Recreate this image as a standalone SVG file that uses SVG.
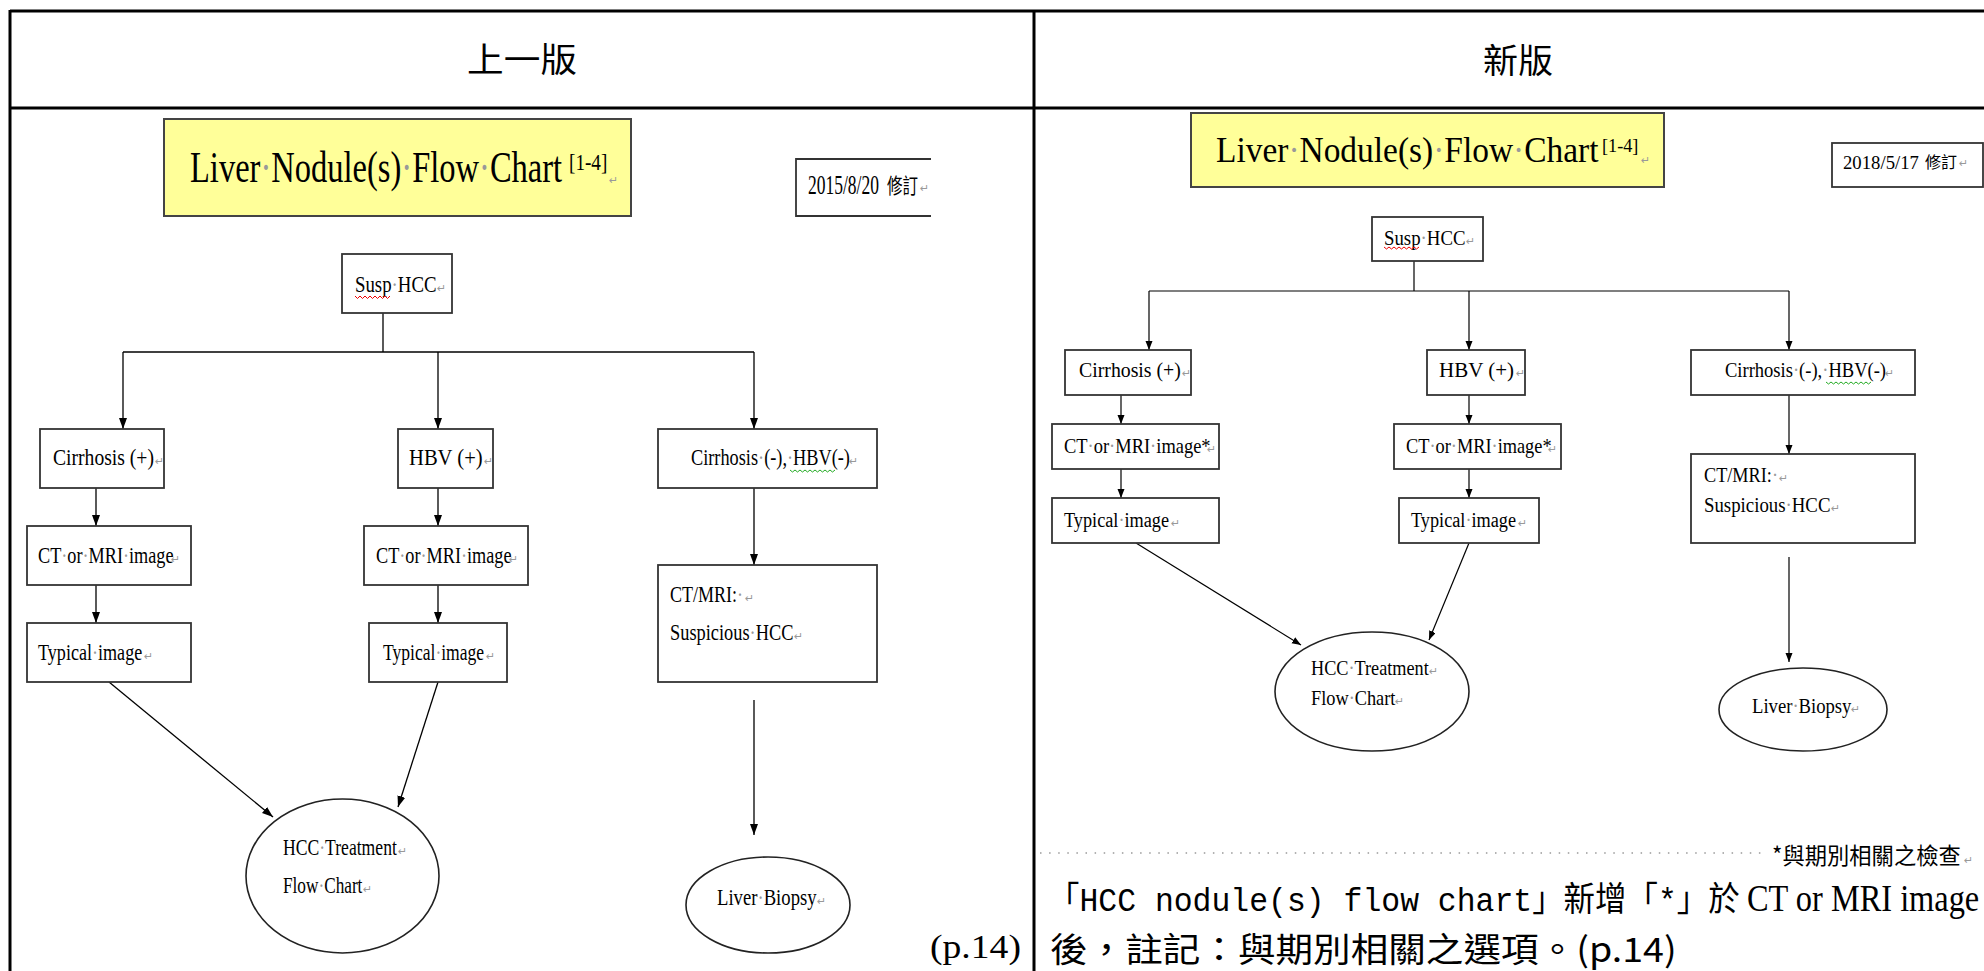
<svg xmlns="http://www.w3.org/2000/svg" width="1984" height="971" viewBox="0 0 1984 971">
<style>
.bg{fill:#fff}
.tb{stroke:#000;stroke-width:3;fill:none}
.bx{fill:#fff;stroke:#333;stroke-width:1.8}
.yb{fill:#ffff99;stroke:#444;stroke-width:2}
.el{fill:#fff;stroke:#222;stroke-width:1.6}
.cn{stroke:#000;stroke-width:1.3;fill:none}
.cnr{stroke:#000;stroke-width:1.2;fill:none}
.sr{font-family:"Liberation Serif","Times New Roman",serif;fill:#000}
.cjk{font-family:"Noto Sans CJK TC","Noto Sans CJK SC",sans-serif;fill:#000}
.mono{font-family:"Liberation Mono","Noto Sans CJK TC",monospace;fill:#000}
.lb{font-size:24px}
.rb{font-size:20px}
.d{fill:#999}
.pm{font-family:"DejaVu Sans",sans-serif;fill:#999;font-size:11px}
.sq{fill:none;stroke-width:1}
</style>
<defs>
<marker id="ah" markerUnits="userSpaceOnUse" markerWidth="12" markerHeight="9" refX="11" refY="4" orient="auto">
<path d="M0,0 L11,4 L0,8 z" fill="#000"/>
</marker>
<marker id="ahs" markerUnits="userSpaceOnUse" markerWidth="10" markerHeight="8" refX="9" refY="3.5" orient="auto">
<path d="M0,0 L9,3.5 L0,7 z" fill="#000"/>
</marker>
</defs>
<rect class="bg" x="0" y="0" width="1984" height="971"/>

<g id="table">
<line class="tb" x1="10" y1="11" x2="1984" y2="11"/>
<line class="tb" x1="10" y1="108" x2="1984" y2="108"/>
<line class="tb" x1="10" y1="10" x2="10" y2="971"/>
<line class="tb" x1="1034" y1="10" x2="1034" y2="971"/>
<text class="cjk" x="467" y="72" font-size="34" textLength="110" lengthAdjust="spacingAndGlyphs">上一版</text>
<text class="cjk" x="1483" y="73" font-size="34" textLength="70" lengthAdjust="spacingAndGlyphs">新版</text>
</g>

<!-- ============ LEFT (old) ============ -->
<g id="old-title">
<rect class="yb" x="164" y="119" width="467" height="97"/>
<text class="sr" font-size="45" transform="translate(190,182) scale(0.723,1)">Liver<tspan class="d">·</tspan>Nodule(s)<tspan class="d">·</tspan>Flow<tspan class="d">·</tspan>Chart</text>
<text class="sr" font-size="24" transform="translate(569,170) scale(0.8,1)">[1-4]</text>
<text class="pm" x="609" y="184">↵</text>
</g>

<g id="old-date">
<path class="bx" d="M931,159 H796 V216 H931" fill="none"/>
<text class="sr" font-size="28" transform="translate(808,194) scale(0.625,1)">2015/8/20</text>
<text class="cjk" font-size="21" transform="translate(887,193) scale(0.74,1)">修訂</text>
<text class="pm" x="920" y="192">↵</text>
</g>

<g id="old-connectors">
<line class="cn" x1="383" y1="313" x2="383" y2="352"/>
<line class="cn" x1="123" y1="352" x2="754" y2="352"/>
<line class="cn" x1="123" y1="352" x2="123" y2="429" marker-end="url(#ah)"/>
<line class="cn" x1="438" y1="352" x2="438" y2="429" marker-end="url(#ah)"/>
<line class="cn" x1="754" y1="352" x2="754" y2="429" marker-end="url(#ah)"/>
<line class="cn" x1="96" y1="488" x2="96" y2="526" marker-end="url(#ah)"/>
<line class="cn" x1="438" y1="488" x2="438" y2="526" marker-end="url(#ah)"/>
<line class="cn" x1="754" y1="488" x2="754" y2="565" marker-end="url(#ah)"/>
<line class="cn" x1="96" y1="585" x2="96" y2="623" marker-end="url(#ah)"/>
<line class="cn" x1="438" y1="585" x2="438" y2="623" marker-end="url(#ah)"/>
<line class="cn" x1="109" y1="682" x2="273" y2="817" marker-end="url(#ah)"/>
<line class="cn" x1="438" y1="682" x2="398" y2="807" marker-end="url(#ah)"/>
<line class="cn" x1="754" y1="700" x2="754" y2="835" marker-end="url(#ah)"/>
</g>

<g id="old-susp">
<rect class="bx" x="342" y="254" width="110" height="59"/>
<text class="sr lb" transform="translate(355,292) scale(0.784,1)">Susp<tspan class="d">·</tspan>HCC</text>
<path class="sq" stroke="#e00" d="M355,296 l2.5,2.5 l2.5,-2.5 l2.5,2.5 l2.5,-2.5 l2.5,2.5 l2.5,-2.5 l2.5,2.5 l2.5,-2.5 l2.5,2.5 l2.5,-2.5 l2.5,2.5 l2.5,-2.5 l2.5,2.5 l2.5,-2.5"/>
<text class="pm" x="437" y="292">↵</text>
</g>

<g id="old-cirrhosis-pos">
<rect class="bx" x="40" y="429" width="124" height="59"/>
<text class="sr lb" transform="translate(53,465) scale(0.818,1)">Cirrhosis (+)</text>
<text class="pm" x="155" y="465">↵</text>
</g>
<g id="old-hbv-pos">
<rect class="bx" x="398" y="429" width="95" height="59"/>
<text class="sr lb" transform="translate(409,465) scale(0.859,1)">HBV (+)</text>
<text class="pm" x="484" y="465">↵</text>
</g>
<g id="old-neg">
<rect class="bx" x="658" y="429" width="219" height="59"/>
<text class="sr lb" transform="translate(691,465) scale(0.762,1)">Cirrhosis<tspan class="d">·</tspan>(-),<tspan class="d">·</tspan>HBV(-)</text>
<path class="sq" stroke="#2a2" d="M790,470 l2.5,2 l2.5,-2 l2.5,2 l2.5,-2 l2.5,2 l2.5,-2 l2.5,2 l2.5,-2 l2.5,2 l2.5,-2 l2.5,2 l2.5,-2 l2.5,2 l2.5,-2 l2.5,2 l2.5,-2 l2.5,2 l2.5,-2"/>
<text class="pm" x="849" y="465">↵</text>
</g>
<g id="old-ct-left">
<rect class="bx" x="27" y="526" width="164" height="59"/>
<text class="sr lb" transform="translate(38,563) scale(0.759,1)">CT<tspan class="d">·</tspan>or<tspan class="d">·</tspan>MRI<tspan class="d">·</tspan>image</text>
<text class="pm" x="171" y="563">↵</text>
</g>
<g id="old-ct-mid">
<rect class="bx" x="364" y="526" width="164" height="59"/>
<text class="sr lb" transform="translate(376,563) scale(0.759,1)">CT<tspan class="d">·</tspan>or<tspan class="d">·</tspan>MRI<tspan class="d">·</tspan>image</text>
<text class="pm" x="509" y="563">↵</text>
</g>
<g id="old-ctmri">
<rect class="bx" x="658" y="565" width="219" height="117"/>
<text class="sr lb" transform="translate(670,602) scale(0.75,1)">CT/MRI:<tspan class="d">·</tspan></text>
<text class="pm" x="745" y="602">↵</text>
<text class="sr lb" transform="translate(670,640) scale(0.765,1)">Suspicious<tspan class="d">·</tspan>HCC</text>
<text class="pm" x="794" y="640">↵</text>
</g>
<g id="old-typ-left">
<rect class="bx" x="27" y="623" width="164" height="59"/>
<text class="sr lb" transform="translate(38,660) scale(0.754,1)">Typical<tspan class="d">·</tspan>image</text>
<text class="pm" x="144" y="660">↵</text>
</g>
<g id="old-typ-mid">
<rect class="bx" x="369" y="623" width="138" height="59"/>
<text class="sr lb" transform="translate(383,660) scale(0.732,1)">Typical<tspan class="d">·</tspan>image</text>
<text class="pm" x="486" y="660">↵</text>
</g>
<g id="old-hcc-treatment">
<ellipse class="el" cx="342.5" cy="876" rx="96.5" ry="77"/>
<text class="sr lb" transform="translate(283,855) scale(0.734,1)">HCC<tspan class="d">·</tspan>Treatment</text>
<text class="pm" x="398" y="855">↵</text>
<text class="sr lb" transform="translate(283,893) scale(0.718,1)">Flow<tspan class="d">·</tspan>Chart</text>
<text class="pm" x="363" y="893">↵</text>
</g>
<g id="old-biopsy">
<ellipse class="el" cx="768" cy="905" rx="82" ry="48"/>
<text class="sr lb" transform="translate(717,905) scale(0.778,1)">Liver<tspan class="d">·</tspan>Biopsy</text>
<text class="pm" x="817" y="905">↵</text>
</g>
<text id="old-page" class="sr" x="930" y="958" font-size="34" textLength="91" lengthAdjust="spacingAndGlyphs">(p.14)</text>

<!-- ============ RIGHT (new) ============ -->
<g id="new-title">
<rect class="yb" x="1191" y="113" width="473" height="74"/>
<text class="sr" font-size="35" transform="translate(1216,162) scale(0.955,1)">Liver<tspan class="d">·</tspan>Nodule(s)<tspan class="d">·</tspan>Flow<tspan class="d">·</tspan>Chart</text>
<text class="sr" font-size="19" transform="translate(1602,152) scale(0.96,1)">[1-4]</text>
<text class="pm" x="1641" y="164">↵</text>
</g>
<g id="new-date">
<rect class="bx" x="1832" y="143" width="151" height="44"/>
<text class="sr" font-size="19" transform="translate(1843,169) scale(0.987,1)">2018/5/17</text>
<text class="cjk" x="1925" y="168" font-size="16">修訂</text>
<text class="pm" x="1959" y="167">↵</text>
</g>

<g id="new-connectors">
<line class="cnr" x1="1414" y1="261" x2="1414" y2="291"/>
<line class="cnr" x1="1149" y1="291" x2="1789" y2="291"/>
<line class="cnr" x1="1149" y1="291" x2="1149" y2="350" marker-end="url(#ahs)"/>
<line class="cnr" x1="1469" y1="291" x2="1469" y2="350" marker-end="url(#ahs)"/>
<line class="cnr" x1="1789" y1="291" x2="1789" y2="350" marker-end="url(#ahs)"/>
<line class="cnr" x1="1121" y1="395" x2="1121" y2="424" marker-end="url(#ahs)"/>
<line class="cnr" x1="1469" y1="395" x2="1469" y2="424" marker-end="url(#ahs)"/>
<line class="cnr" x1="1789" y1="395" x2="1789" y2="454" marker-end="url(#ahs)"/>
<line class="cnr" x1="1121" y1="469" x2="1121" y2="498" marker-end="url(#ahs)"/>
<line class="cnr" x1="1469" y1="469" x2="1469" y2="498" marker-end="url(#ahs)"/>
<line class="cnr" x1="1136" y1="543" x2="1301" y2="645" marker-end="url(#ahs)"/>
<line class="cnr" x1="1469" y1="543" x2="1429" y2="640" marker-end="url(#ahs)"/>
<line class="cnr" x1="1789" y1="557" x2="1789" y2="662" marker-end="url(#ahs)"/>
</g>

<g id="new-susp">
<rect class="bx" x="1372" y="217" width="111" height="44"/>
<text class="sr rb" transform="translate(1384,245) scale(0.941,1)">Susp<tspan class="d">·</tspan>HCC</text>
<path class="sq" stroke="#e00" d="M1384,247 l2.5,2 l2.5,-2 l2.5,2 l2.5,-2 l2.5,2 l2.5,-2 l2.5,2 l2.5,-2 l2.5,2 l2.5,-2 l2.5,2 l2.5,-2 l2.5,2 l2.5,-2"/>
<text class="pm" x="1466" y="245">↵</text>
</g>
<g id="new-cirrhosis-pos">
<rect class="bx" x="1065" y="350" width="126" height="45"/>
<text class="sr rb" transform="translate(1079,377) scale(0.99,1)">Cirrhosis (+)</text>
<text class="pm" x="1182" y="377">↵</text>
</g>
<g id="new-hbv-pos">
<rect class="bx" x="1427" y="350" width="98" height="45"/>
<text class="sr rb" transform="translate(1439,377) scale(1.05,1)">HBV (+)</text>
<text class="pm" x="1516" y="377">↵</text>
</g>
<g id="new-neg">
<rect class="bx" x="1691" y="350" width="224" height="45"/>
<text class="sr rb" transform="translate(1725,377) scale(0.927,1)">Cirrhosis<tspan class="d">·</tspan>(-),<tspan class="d">·</tspan>HBV(-)</text>
<path class="sq" stroke="#2a2" d="M1826,382 l2.5,2 l2.5,-2 l2.5,2 l2.5,-2 l2.5,2 l2.5,-2 l2.5,2 l2.5,-2 l2.5,2 l2.5,-2 l2.5,2 l2.5,-2 l2.5,2 l2.5,-2 l2.5,2 l2.5,-2 l2.5,2 l2.5,-2"/>
<text class="pm" x="1885" y="377">↵</text>
</g>
<g id="new-ct-left">
<rect class="bx" x="1052" y="424" width="167" height="45"/>
<text class="sr rb" transform="translate(1064,453) scale(0.923,1)">CT<tspan class="d">·</tspan>or<tspan class="d">·</tspan>MRI<tspan class="d">·</tspan>image*</text>
<text class="pm" x="1207" y="453">↵</text>
</g>
<g id="new-ct-mid">
<rect class="bx" x="1394" y="424" width="167" height="45"/>
<text class="sr rb" transform="translate(1406,453) scale(0.917,1)">CT<tspan class="d">·</tspan>or<tspan class="d">·</tspan>MRI<tspan class="d">·</tspan>image*</text>
<text class="pm" x="1548" y="453">↵</text>
</g>
<g id="new-ctmri">
<rect class="bx" x="1691" y="454" width="224" height="89"/>
<text class="sr rb" transform="translate(1704,482) scale(0.913,1)">CT/MRI:<tspan class="d">·</tspan></text>
<text class="pm" x="1779" y="482">↵</text>
<text class="sr rb" transform="translate(1704,512) scale(0.941,1)">Suspicious<tspan class="d">·</tspan>HCC</text>
<text class="pm" x="1831" y="512">↵</text>
</g>
<g id="new-typ-left">
<rect class="bx" x="1052" y="498" width="167" height="45"/>
<text class="sr rb" transform="translate(1064,527) scale(0.913,1)">Typical<tspan class="d">·</tspan>image</text>
<text class="pm" x="1171" y="527">↵</text>
</g>
<g id="new-typ-mid">
<rect class="bx" x="1399" y="498" width="140" height="45"/>
<text class="sr rb" transform="translate(1411,527) scale(0.913,1)">Typical<tspan class="d">·</tspan>image</text>
<text class="pm" x="1518" y="527">↵</text>
</g>
<g id="new-hcc-treatment">
<ellipse class="el" cx="1372" cy="691.5" rx="97" ry="59.5"/>
<text class="sr rb" transform="translate(1311,675) scale(0.912,1)">HCC<tspan class="d">·</tspan>Treatment</text>
<text class="pm" x="1429" y="675">↵</text>
<text class="sr rb" transform="translate(1311,705) scale(0.916,1)">Flow<tspan class="d">·</tspan>Chart</text>
<text class="pm" x="1395" y="705">↵</text>
</g>
<g id="new-biopsy">
<ellipse class="el" cx="1803" cy="709.5" rx="84" ry="41.5"/>
<text class="sr rb" transform="translate(1752,713) scale(0.933,1)">Liver<tspan class="d">·</tspan>Biopsy</text>
<text class="pm" x="1851" y="713">↵</text>
</g>

<g id="new-footnote">
<line x1="1040" y1="853" x2="1768" y2="853" stroke="#999" stroke-width="1.5" stroke-dasharray="1.5 7.6"/>
<text class="cjk" font-size="23" transform="translate(1772,864) scale(0.97,1)">*與期別相關之檢查</text>
<text class="pm" x="1964" y="864">↵</text>
</g>
<g id="change-note">
<text class="mono" font-size="34" transform="translate(1048,911) scale(0.925,1)">「HCC nodule(s) flow chart」新增「*」於</text>
<text class="sr" font-size="37" transform="translate(1747,911) scale(0.875,1)">CT or MRI image</text>
<text class="cjk" font-size="34" transform="translate(1050,962) scale(1.106,1)">後，註記：與期別相關之選項。(p.14)</text>
</g>
</svg>
